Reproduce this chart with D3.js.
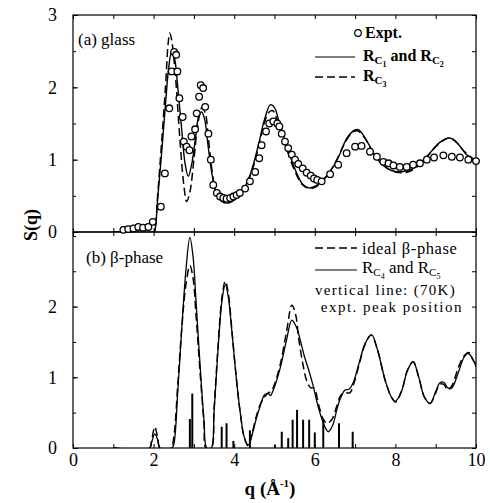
<!DOCTYPE html>
<html><head><meta charset="utf-8">
<script src="https://cdn.jsdelivr.net/npm/d3@7"></script>
<style>body{margin:0;background:#fff}svg{display:block}svg text{font-family:"Liberation Serif","Times New Roman",serif !important;fill:#000}</style>
</head><body>
<script>
// ---- data ----
const xTicks = [0, 2, 4, 6, 8, 10];
const yTicksTop = [0, 1, 2, 3];
const yTicksBottom = [0, 1, 2];

// (a) glass
const glassExpt = [[1.25,0.03],[1.37,0.04],[1.5,0.05],[1.62,0.07],[1.74,0.06],[1.87,0.07],[1.98,0.14],[2.18,0.35],[2.28,0.81],[2.39,1.71],[2.45,2.22],[2.51,2.49],[2.56,2.45],[2.59,2.22],[2.64,1.85],[2.72,1.59],[2.75,1.25],[2.82,1.18],[2.89,1.13],[2.94,1.32],[3.03,1.42],[3.07,1.64],[3.13,1.87],[3.17,2.03],[3.23,1.99],[3.28,1.73],[3.36,1.36],[3.42,1.0],[3.48,0.65],[3.57,0.54],[3.65,0.49],[3.73,0.47],[3.81,0.46],[3.9,0.47],[3.98,0.49],[4.06,0.51],[4.14,0.54],[4.27,0.6],[4.39,0.7],[4.52,0.83],[4.62,1.02],[4.68,1.2],[4.79,1.39],[4.87,1.5],[4.97,1.53],[5.07,1.5],[5.12,1.46],[5.18,1.36],[5.26,1.25],[5.34,1.16],[5.43,1.07],[5.51,1.0],[5.59,0.94],[5.7,0.88],[5.8,0.82],[5.9,0.78],[5.98,0.74],[6.06,0.72],[6.17,0.7],[6.38,0.8],[6.58,0.93],[6.79,1.09],[7.0,1.18],[7.16,1.19],[7.37,1.11],[7.54,1.04],[7.7,0.97],[7.83,0.95],[7.95,0.92],[8.11,0.9],[8.28,0.9],[8.44,0.93],[8.61,0.95],[8.78,1.0],[8.96,1.03],[9.19,1.06],[9.4,1.04],[9.6,1.03],[9.81,1.0],[10.0,0.98]];
const glassRc12 = [[1.0,0],[2.0,0],[2.03,0.02],[2.1,0.45],[2.2,1.1],[2.3,1.8],[2.38,2.3],[2.45,2.5],[2.52,2.4],[2.6,2.0],[2.7,1.4],[2.78,0.95],[2.86,0.77],[2.95,0.95],[3.05,1.35],[3.12,1.6],[3.19,1.66],[3.27,1.55],[3.35,1.2],[3.45,0.8],[3.55,0.55],[3.7,0.42],[3.85,0.4],[4.0,0.44],[4.2,0.56],[4.4,0.8],[4.6,1.2],[4.75,1.55],[4.9,1.76],[5.0,1.72],[5.1,1.55],[5.3,1.2],[5.5,0.88],[5.7,0.66],[5.85,0.61],[6.0,0.63],[6.2,0.72],[6.4,0.85],[6.6,1.05],[6.8,1.3],[7.0,1.41],[7.1,1.41],[7.3,1.25],[7.5,1.05],[7.7,0.92],[7.9,0.85],[8.1,0.83],[8.3,0.85],[8.5,0.9],[8.7,1.0],[8.9,1.12],[9.1,1.24],[9.35,1.3],[9.55,1.22],[9.75,1.08],[10.0,0.97]];
const glassRc3 = [[1.0,0],[2.0,0],[2.03,0.02],[2.1,0.5],[2.2,1.25],[2.3,2.05],[2.36,2.6],[2.4,2.75],[2.45,2.65],[2.55,2.1],[2.65,1.3],[2.75,0.65],[2.82,0.42],[2.9,0.55],[3.0,1.0],[3.1,1.5],[3.2,1.72],[3.28,1.65],[3.36,1.3],[3.45,0.85],[3.55,0.55],[3.7,0.45],[3.9,0.45],[4.1,0.5],[4.3,0.65],[4.5,0.95],[4.7,1.4],[4.85,1.65],[4.95,1.68],[5.1,1.5],[5.3,1.15],[5.5,0.85],[5.7,0.65],[5.9,0.6],[6.1,0.65],[6.3,0.78],[6.5,0.95],[6.7,1.18],[6.9,1.36],[7.05,1.4],[7.2,1.33],[7.4,1.15],[7.6,0.98],[7.8,0.88],[8.0,0.83],[8.2,0.82],[8.4,0.85],[8.6,0.93],[8.8,1.05],[9.0,1.18],[9.2,1.27],[9.35,1.3],[9.5,1.25],[9.7,1.12],[10.0,0.98]];

// (b) beta-phase
const betaIdeal = [[1.0,0],[1.9,0],[1.95,0.1],[2.03,0.3],[2.1,0.15],[2.16,0],[2.43,0],[2.5,0.15],[2.6,0.9],[2.7,1.7],[2.8,2.3],[2.9,2.58],[2.98,2.4],[3.05,1.9],[3.15,1.1],[3.25,0.35],[3.3,0],[3.43,0],[3.5,0.55],[3.6,1.45],[3.7,2.15],[3.78,2.36],[3.85,2.2],[3.95,1.62],[4.05,1.0],[4.15,0.5],[4.25,0.15],[4.35,0.03],[4.45,0.22],[4.55,0.45],[4.65,0.62],[4.75,0.72],[4.85,0.78],[4.92,0.8],[5.0,0.9],[5.15,1.2],[5.3,1.65],[5.43,2.02],[5.52,1.9],[5.6,1.55],[5.7,1.2],[5.8,0.95],[5.9,0.85],[5.98,0.85],[6.1,0.6],[6.2,0.42],[6.3,0.35],[6.42,0.4],[6.55,0.6],[6.65,0.75],[6.75,0.78],[6.87,0.78],[6.95,0.88],[7.1,1.18],[7.25,1.47],[7.4,1.6],[7.55,1.4],[7.75,0.95],[7.9,0.72],[8.0,0.65],[8.15,0.8],[8.3,1.1],[8.44,1.22],[8.58,1.0],[8.72,0.72],[8.86,0.63],[9.0,0.78],[9.1,0.9],[9.2,0.9],[9.3,0.82],[9.42,0.9],[9.55,1.12],[9.7,1.3],[9.82,1.35],[9.92,1.25],[10.0,1.18]];
const betaRc45 = [[1.0,0],[1.9,0],[1.95,0.08],[2.03,0.2],[2.1,0.12],[2.16,0],[2.45,0],[2.5,0.05],[2.6,0.8],[2.7,1.7],[2.8,2.5],[2.9,2.98],[2.98,2.7],[3.05,2.1],[3.15,1.2],[3.25,0.4],[3.32,0],[3.43,0],[3.5,0.5],[3.6,1.4],[3.7,2.1],[3.78,2.31],[3.85,2.15],[3.95,1.6],[4.05,1.0],[4.15,0.5],[4.25,0.15],[4.35,0.04],[4.45,0.2],[4.55,0.42],[4.65,0.6],[4.75,0.75],[4.85,0.77],[4.9,0.74],[4.97,0.82],[5.05,0.95],[5.15,1.15],[5.3,1.53],[5.43,1.81],[5.55,1.7],[5.65,1.5],[5.75,1.28],[5.85,1.1],[5.95,0.9],[6.1,0.55],[6.25,0.3],[6.34,0.23],[6.45,0.33],[6.55,0.55],[6.65,0.72],[6.75,0.82],[6.85,0.83],[6.95,0.92],[7.1,1.2],[7.25,1.48],[7.41,1.6],[7.55,1.4],[7.75,0.95],[7.9,0.72],[8.0,0.66],[8.15,0.8],[8.3,1.1],[8.44,1.22],[8.58,1.0],[8.72,0.72],[8.86,0.63],[9.0,0.8],[9.1,0.92],[9.2,0.93],[9.3,0.85],[9.4,0.85],[9.55,1.05],[9.7,1.28],[9.8,1.34],[9.9,1.28],[10.0,1.15]];
const peakPos = [2.9,2.96,3.69,3.81,3.98,4.39,5.01,5.18,5.34,5.45,5.56,5.71,5.86,6.0,6.21,6.6,6.94];
const peakHeight = [0.41,0.77,0.30,0.35,0.10,0.25,0.04,0.23,0.14,0.40,0.54,0.40,0.40,0.22,0.40,0.35,0.23];

// ---- layout ----
const W = 490, H = 503;
const L = 73, R = 476, T = 15, M = 232, B = 448;
const FONT = "'Liberation Serif', 'Times New Roman', serif";
const svg = d3.select("body").append("svg").attr("width", W).attr("height", H);

const x = d3.scaleLinear().domain([0, 10]).range([L, R]);
const yTop = d3.scaleLinear().domain([0, 3]).range([M, T]);
const yBot = d3.scaleLinear().domain([0, (B - M) / 70.7]).range([B, M]);

const defs = svg.append("defs");
defs.append("clipPath").attr("id", "cTop").append("rect").attr("x", L).attr("y", T - 5).attr("width", R - L).attr("height", M - T + 5);
defs.append("clipPath").attr("id", "cBot").append("rect").attr("x", L).attr("y", M).attr("width", R - L).attr("height", B - M);

function panelAxes(y, yt, top, bottom, bottomLabels) {
  const g = svg.append("g");
  const halfTicks = d3.range(0, y.domain()[1] + 0.01, 0.5);
  g.append("g").attr("transform", `translate(${L},0)`)
    .call(d3.axisRight(y).tickValues(halfTicks).tickSize(3).tickFormat(""))
    .call(s => s.select(".domain").remove());
  g.append("g").attr("transform", `translate(${L},0)`)
    .call(d3.axisLeft(y).tickValues(yt).tickSize(0).tickPadding(16).tickFormat(d3.format("d")))
    .call(s => { s.select(".domain").remove(); s.attr("font-family", FONT); s.selectAll("text").attr("font-size", 18).style("font-family", FONT); });
  g.append("g").attr("transform", `translate(${L},0)`)
    .call(d3.axisRight(y).tickValues(yt).tickSize(5).tickFormat(""))
    .call(s => s.select(".domain").remove());
  g.append("g").attr("transform", `translate(${R},0)`)
    .call(d3.axisLeft(y).tickValues(halfTicks).tickSize(4).tickFormat(""))
    .call(s => s.select(".domain").remove());
  g.append("g").attr("transform", `translate(0,${top})`)
    .call(d3.axisBottom(x).tickValues(d3.range(0, 11, 1)).tickSize(4).tickFormat(""))
    .call(s => s.select(".domain").remove());
  g.append("g").attr("transform", `translate(0,${bottom})`)
    .call(d3.axisTop(x).tickValues(d3.range(0, 11, 1)).tickSize(4).tickFormat(""))
    .call(s => s.select(".domain").remove());
  if (bottomLabels) {
    g.append("g").attr("transform", `translate(0,${bottom})`)
      .call(d3.axisBottom(x).tickValues(xTicks).tickSize(0).tickPadding(5).tickFormat(d3.format("d")))
      .call(s => { s.select(".domain").remove(); s.attr("font-family", FONT); s.selectAll("text").attr("font-size", 18).style("font-family", FONT); });
  }
  g.selectAll("line").attr("stroke", "#000").attr("stroke-width", 1);
  g.append("rect").attr("x", L).attr("y", top).attr("width", R - L).attr("height", bottom - top)
    .attr("fill", "none").attr("stroke", "#000").attr("stroke-width", 1.2);
}

panelAxes(yTop, yTicksTop, T, M, false);
panelAxes(yBot, yTicksBottom, M, B, true);

const lineTop = d3.line().x(d => x(d[0])).y(d => yTop(d[1])).curve(d3.curveCatmullRom.alpha(0.5));
const lineBot = d3.line().x(d => x(d[0])).y(d => yBot(d[1])).curve(d3.curveCatmullRom.alpha(0.5));

// top panel curves
const gt = svg.append("g").attr("clip-path", "url(#cTop)");
gt.append("path").datum(glassRc3).attr("d", lineTop).attr("fill", "none").attr("stroke", "#000").attr("stroke-width", 1.5).attr("stroke-dasharray", "8,4");
gt.append("path").datum(glassRc12).attr("d", lineTop).attr("fill", "none").attr("stroke", "#000").attr("stroke-width", 1.4);
svg.append("g").selectAll("circle").data(glassExpt).join("circle")
  .attr("cx", d => x(d[0])).attr("cy", d => yTop(d[1])).attr("r", 3.3)
  .attr("fill", "#fff").attr("stroke", "#000").attr("stroke-width", 1.3);

// bottom panel curves
const gb = svg.append("g").attr("clip-path", "url(#cBot)");
gb.append("g").selectAll("line").data(peakPos).join("line")
  .attr("x1", d => x(d)).attr("x2", d => x(d)).attr("y1", yBot(0)).attr("y2", (d, i) => yBot(peakHeight[i]))
  .attr("stroke", "#000").attr("stroke-width", 2);
gb.append("path").datum(betaIdeal).attr("d", lineBot).attr("fill", "none").attr("stroke", "#000").attr("stroke-width", 1.5).attr("stroke-dasharray", "8,4");
gb.append("path").datum(betaRc45).attr("d", lineBot).attr("fill", "none").attr("stroke", "#000").attr("stroke-width", 1.3);

// text helper
function txt(xp, yp, size, s, weight) {
  return svg.append("text").attr("x", xp).attr("y", yp).attr("font-size", size)
    .attr("font-weight", weight || "normal").style("font-family", FONT).text(s);
}

// panel labels
txt(78, 45, 17, "(a) glass");
txt(86, 263, 17, "(b) β-phase");

// R_C subscripted labels
function rcText(xp, yp, subs, weight, size) {
  const tx = svg.append("text").attr("x", xp).attr("y", yp).attr("font-size", size || 16)
    .attr("font-weight", weight).style("font-family", FONT);
  subs.forEach((s, i) => {
    if (i > 0) tx.append("tspan").attr("dy", -6).text(" and ");
    tx.append("tspan").text("R");
    tx.append("tspan").attr("font-size", 11).attr("dy", 3).text("C");
    tx.append("tspan").attr("font-size", 8).attr("dy", 3).text(s);
  });
  return tx;
}

// top legend
svg.append("circle").attr("cx", 358).attr("cy", 33).attr("r", 3.3).attr("fill", "#fff").attr("stroke", "#000").attr("stroke-width", 1.2);
txt(365, 38, 16, "Expt.", "bold");
svg.append("line").attr("x1", 315).attr("x2", 355).attr("y1", 57).attr("y2", 57).attr("stroke", "#000").attr("stroke-width", 1.2);
rcText(363, 61, ["1", "2"], "bold");
svg.append("line").attr("x1", 315).attr("x2", 355).attr("y1", 77).attr("y2", 77).attr("stroke", "#000").attr("stroke-width", 1.5).attr("stroke-dasharray", "8,4");
rcText(363, 81, ["3"], "bold");

// bottom legend
svg.append("line").attr("x1", 315).attr("x2", 357).attr("y1", 248).attr("y2", 248).attr("stroke", "#000").attr("stroke-width", 1.5).attr("stroke-dasharray", "8,4");
txt(362, 254, 16.5, "ideal β-phase").attr("letter-spacing", 0.6);
svg.append("line").attr("x1", 315).attr("x2", 357).attr("y1", 270).attr("y2", 270).attr("stroke", "#000").attr("stroke-width", 1.2);
rcText(362, 273, ["4", "5"], "normal", 17);
txt(315, 295, 15, "vertical line: (70K)").attr("letter-spacing", 1.3);
txt(463, 312, 15, "expt. peak position").attr("text-anchor", "end").attr("letter-spacing", 1.5);

// axis titles
svg.append("text").attr("transform", "translate(37,225) rotate(-90)").attr("text-anchor", "middle")
  .attr("font-size", 18).attr("font-weight", "bold").style("font-family", FONT).text("S(q)");
const xt = svg.append("text").attr("x", 270).attr("y", 495).attr("text-anchor", "middle")
  .attr("font-size", 19).attr("font-weight", "bold").style("font-family", FONT);
xt.append("tspan").text("q (Å");
xt.append("tspan").attr("font-size", 11).attr("dy", -8).text("-1");
xt.append("tspan").attr("dy", 8).text(")");
</script>
</body></html>
